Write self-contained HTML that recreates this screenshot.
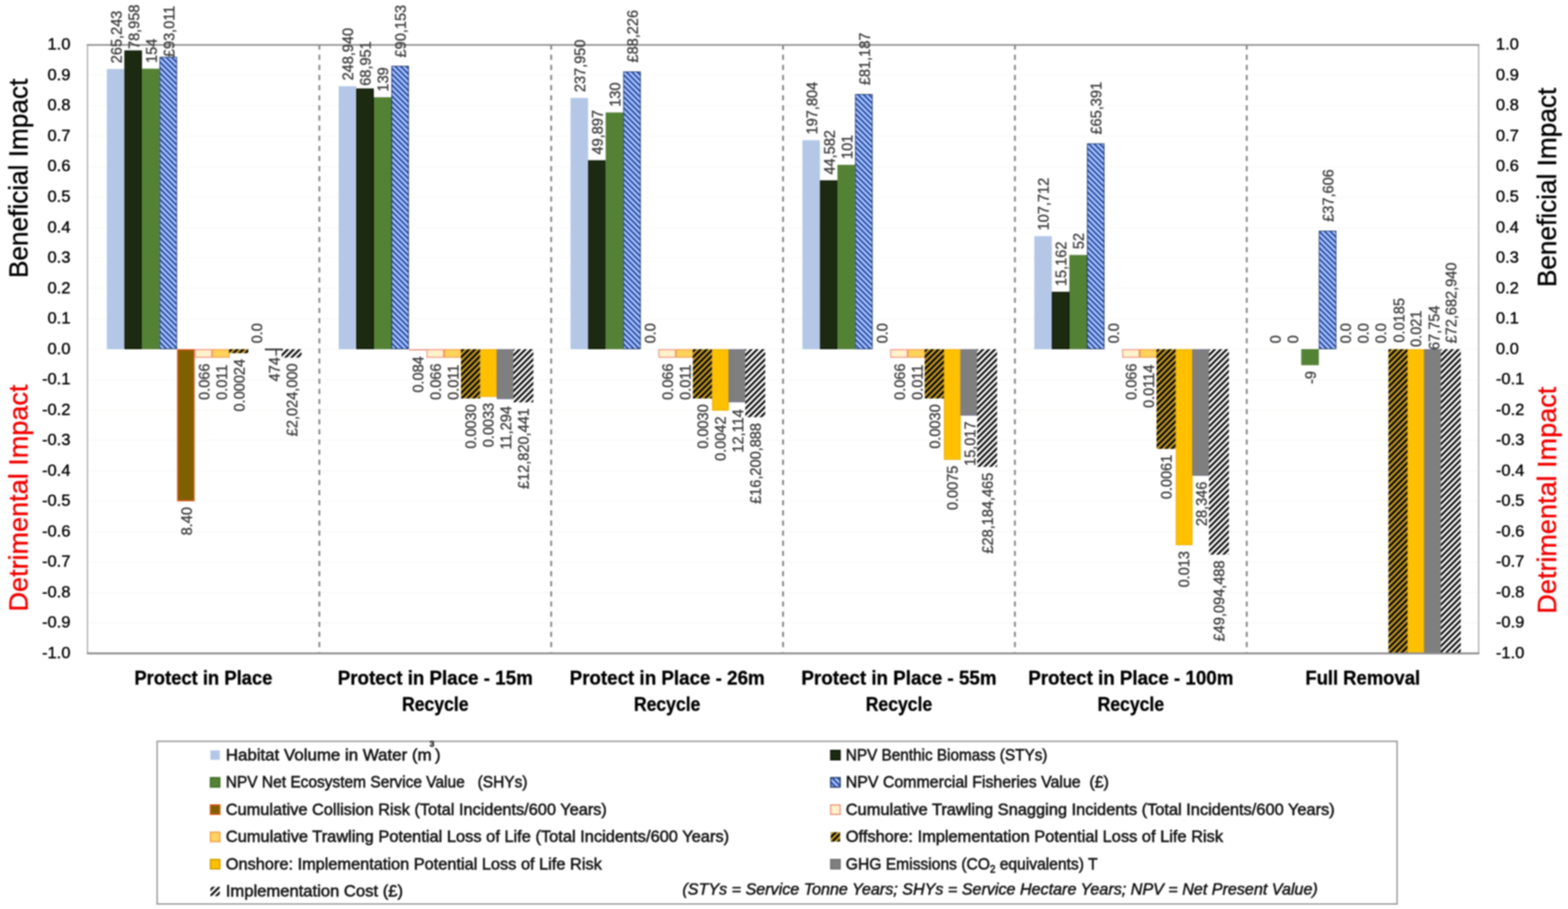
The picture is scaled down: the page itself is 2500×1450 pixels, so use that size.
<!DOCTYPE html>
<html lang="en"><head><meta charset="utf-8">
<title>Beneficial and Detrimental Impact by Decommissioning Option</title>
<style>
html,body{margin:0;padding:0;background:#fff;}
body{width:2500px;height:1450px;overflow:hidden;font-family:"Liberation Sans", sans-serif;}
svg{display:block;filter:blur(1.0px);}
text{font-family:"Liberation Sans", sans-serif;}
.dl{font-size:23.2px;fill:#3a3a3a;stroke:#3a3a3a;stroke-width:0.5px;}
.tk{font-size:26.3px;fill:#000;stroke:#000;stroke-width:0.55px;}
.cat{font-size:30.6px;font-weight:bold;fill:#000;stroke:#000;stroke-width:0.5px;text-anchor:middle;}
.lg{font-size:26px;fill:#141414;stroke:#141414;stroke-width:0.85px;white-space:pre;}
.ft{font-size:26px;font-style:italic;fill:#111;stroke:#111;stroke-width:0.75px;}
.ax{font-size:42px;stroke-width:0.55px;}
</style></head><body>
<svg width="2500" height="1450" viewBox="0 0 2500 1450" role="img" aria-label="Bar chart of beneficial and detrimental impact by decommissioning option">
<defs>
<pattern id="pFish" width="6.2" height="6.2" patternUnits="userSpaceOnUse" patternTransform="rotate(45)"><rect width="6.2" height="6.2" fill="#A6C5FF"/><rect width="6.2" height="2.6" fill="#25439A"/></pattern>
<pattern id="pOff" width="6.7" height="6.7" patternUnits="userSpaceOnUse" patternTransform="rotate(-45)"><rect width="6.7" height="6.7" fill="#080500"/><rect width="6.7" height="3.2" fill="#CDA327"/></pattern>
<pattern id="pCost" width="6.7" height="6.7" patternUnits="userSpaceOnUse" patternTransform="rotate(-45)"><rect width="6.7" height="6.7" fill="#ffffff"/><rect width="6.7" height="3.2" fill="#050505"/></pattern>
</defs>
<rect x="0" y="0" width="2500" height="1450" fill="#ffffff"/>
<g stroke="#f9f9f7" stroke-width="1.5">
<line x1="139.5" y1="993.73" x2="2357.5" y2="993.73"/>
<line x1="139.5" y1="945.20" x2="2357.5" y2="945.20"/>
<line x1="139.5" y1="896.67" x2="2357.5" y2="896.67"/>
<line x1="139.5" y1="848.15" x2="2357.5" y2="848.15"/>
<line x1="139.5" y1="799.62" x2="2357.5" y2="799.62"/>
<line x1="139.5" y1="751.10" x2="2357.5" y2="751.10"/>
<line x1="139.5" y1="702.58" x2="2357.5" y2="702.58"/>
<line x1="139.5" y1="654.05" x2="2357.5" y2="654.05"/>
<line x1="139.5" y1="605.52" x2="2357.5" y2="605.52"/>
<line x1="139.5" y1="557.00" x2="2357.5" y2="557.00"/>
<line x1="139.5" y1="508.48" x2="2357.5" y2="508.48"/>
<line x1="139.5" y1="459.95" x2="2357.5" y2="459.95"/>
<line x1="139.5" y1="411.43" x2="2357.5" y2="411.43"/>
<line x1="139.5" y1="362.90" x2="2357.5" y2="362.90"/>
<line x1="139.5" y1="314.38" x2="2357.5" y2="314.38"/>
<line x1="139.5" y1="265.85" x2="2357.5" y2="265.85"/>
<line x1="139.5" y1="217.33" x2="2357.5" y2="217.33"/>
<line x1="139.5" y1="168.80" x2="2357.5" y2="168.80"/>
<line x1="139.5" y1="120.27" x2="2357.5" y2="120.27"/>
</g>
<g stroke="#808080" stroke-width="2.8" stroke-dasharray="8.2 7.95">
<line x1="509.17" y1="71.15" x2="509.17" y2="1042.25"/>
<line x1="878.83" y1="71.15" x2="878.83" y2="1042.25"/>
<line x1="1248.50" y1="71.15" x2="1248.50" y2="1042.25"/>
<line x1="1618.17" y1="71.15" x2="1618.17" y2="1042.25"/>
<line x1="1987.83" y1="71.15" x2="1987.83" y2="1042.25"/>
</g>
<g>
<rect x="170.33" y="110.08" width="28.00" height="446.92" fill="#B4C7E7"/>
<rect x="540.00" y="137.50" width="28.00" height="419.50" fill="#B4C7E7"/>
<rect x="909.67" y="156.18" width="28.00" height="400.82" fill="#B4C7E7"/>
<rect x="1279.33" y="223.63" width="28.00" height="333.37" fill="#B4C7E7"/>
<rect x="1649.00" y="376.73" width="28.00" height="180.27" fill="#B4C7E7"/>
<rect x="199.08" y="81.23" width="26.50" height="475.02" fill="#1B2A10" stroke="#0B1405" stroke-width="1.5"/>
<rect x="568.75" y="141.89" width="26.50" height="414.36" fill="#1B2A10" stroke="#0B1405" stroke-width="1.5"/>
<rect x="938.42" y="256.41" width="26.50" height="299.84" fill="#1B2A10" stroke="#0B1405" stroke-width="1.5"/>
<rect x="1308.08" y="288.44" width="26.50" height="267.81" fill="#1B2A10" stroke="#0B1405" stroke-width="1.5"/>
<rect x="1677.75" y="466.23" width="26.50" height="90.02" fill="#1B2A10" stroke="#0B1405" stroke-width="1.5"/>
<rect x="226.83" y="110.10" width="27.00" height="446.40" fill="#548235" stroke="#4A762D" stroke-width="1"/>
<rect x="596.50" y="155.71" width="27.00" height="400.79" fill="#548235" stroke="#4A762D" stroke-width="1"/>
<rect x="966.17" y="179.98" width="27.00" height="376.52" fill="#548235" stroke="#4A762D" stroke-width="1"/>
<rect x="1335.83" y="263.44" width="27.00" height="293.06" fill="#548235" stroke="#4A762D" stroke-width="1"/>
<rect x="1705.50" y="407.22" width="27.00" height="149.28" fill="#548235" stroke="#4A762D" stroke-width="1"/>
<rect x="2075.17" y="557.50" width="27.00" height="24.48" fill="#548235" stroke="#4A762D" stroke-width="1"/>
<rect x="254.93" y="91.27" width="26.80" height="465.13" fill="url(#pFish)" stroke="#1F3864" stroke-width="1.2"/>
<rect x="624.60" y="105.59" width="26.80" height="450.81" fill="url(#pFish)" stroke="#1F3864" stroke-width="1.2"/>
<rect x="994.27" y="114.57" width="26.80" height="441.83" fill="url(#pFish)" stroke="#1F3864" stroke-width="1.2"/>
<rect x="1363.93" y="150.62" width="26.80" height="405.78" fill="url(#pFish)" stroke="#1F3864" stroke-width="1.2"/>
<rect x="1733.60" y="229.33" width="26.80" height="327.07" fill="url(#pFish)" stroke="#1F3864" stroke-width="1.2"/>
<rect x="2103.27" y="368.60" width="26.80" height="187.80" fill="url(#pFish)" stroke="#1F3864" stroke-width="1.2"/>
<rect x="283.33" y="558.00" width="26.00" height="240.62" fill="#7F6000" stroke="#D8541A" stroke-width="2.0"/>
<rect x="652.00" y="557.20" width="28.00" height="1.8" fill="#E58A70"/>
<rect x="311.13" y="557.80" width="26.40" height="11.99" fill="#FFF2CC" stroke="#F0907A" stroke-width="1.6"/>
<rect x="680.80" y="557.80" width="26.40" height="11.99" fill="#FFF2CC" stroke="#F0907A" stroke-width="1.6"/>
<rect x="1050.47" y="557.80" width="26.40" height="11.99" fill="#FFF2CC" stroke="#F0907A" stroke-width="1.6"/>
<rect x="1420.13" y="557.80" width="26.40" height="11.99" fill="#FFF2CC" stroke="#F0907A" stroke-width="1.6"/>
<rect x="1789.80" y="557.80" width="26.40" height="11.99" fill="#FFF2CC" stroke="#F0907A" stroke-width="1.6"/>
<rect x="339.13" y="557.80" width="26.40" height="11.99" fill="#FFD35C" stroke="#F59A4A" stroke-width="1.6"/>
<rect x="708.80" y="557.80" width="26.40" height="11.99" fill="#FFD35C" stroke="#F59A4A" stroke-width="1.6"/>
<rect x="1078.47" y="557.80" width="26.40" height="11.99" fill="#FFD35C" stroke="#F59A4A" stroke-width="1.6"/>
<rect x="1448.13" y="557.80" width="26.40" height="11.99" fill="#FFD35C" stroke="#F59A4A" stroke-width="1.6"/>
<rect x="1817.80" y="557.80" width="26.40" height="11.99" fill="#FFD35C" stroke="#F59A4A" stroke-width="1.6"/>
<rect x="365.33" y="557.00" width="30.60" height="6.31" fill="url(#pOff)"/>
<rect x="735.00" y="557.00" width="30.60" height="78.61" fill="url(#pOff)"/>
<rect x="1104.67" y="557.00" width="30.60" height="78.61" fill="url(#pOff)"/>
<rect x="1474.33" y="557.00" width="30.60" height="78.61" fill="url(#pOff)"/>
<rect x="1844.00" y="557.00" width="30.60" height="159.02" fill="url(#pOff)"/>
<rect x="2213.67" y="557.00" width="30.60" height="485.25" fill="url(#pOff)"/>
<rect x="766.25" y="557.65" width="25.50" height="74.88" fill="#FFC000" stroke="#E9AE00" stroke-width="1.3"/>
<rect x="1135.92" y="557.65" width="25.50" height="96.72" fill="#FFC000" stroke="#E9AE00" stroke-width="1.3"/>
<rect x="1505.58" y="557.65" width="25.50" height="175.19" fill="#FFC000" stroke="#E9AE00" stroke-width="1.3"/>
<rect x="1875.25" y="557.65" width="25.50" height="311.44" fill="#FFC000" stroke="#E9AE00" stroke-width="1.3"/>
<rect x="2244.92" y="557.65" width="25.50" height="483.95" fill="#FFC000" stroke="#E9AE00" stroke-width="1.3"/>
<rect x="422.33" y="556.00" width="28.00" height="2.8" fill="#333"/>
<rect x="792.70" y="557.70" width="26.60" height="78.33" fill="#7F7F7F" stroke="#75778F" stroke-width="1.4"/>
<rect x="1162.37" y="557.70" width="26.60" height="83.32" fill="#7F7F7F" stroke="#75778F" stroke-width="1.4"/>
<rect x="1532.03" y="557.70" width="26.60" height="104.63" fill="#7F7F7F" stroke="#75778F" stroke-width="1.4"/>
<rect x="1901.70" y="557.70" width="26.60" height="200.61" fill="#7F7F7F" stroke="#75778F" stroke-width="1.4"/>
<rect x="2271.37" y="557.70" width="26.60" height="483.85" fill="#7F7F7F" stroke="#75778F" stroke-width="1.4"/>
<rect x="448.93" y="557.00" width="31.80" height="13.49" fill="url(#pCost)"/>
<rect x="818.60" y="557.00" width="31.80" height="84.72" fill="url(#pCost)"/>
<rect x="1188.27" y="557.00" width="31.80" height="108.50" fill="url(#pCost)"/>
<rect x="1557.93" y="557.00" width="31.80" height="187.74" fill="url(#pCost)"/>
<rect x="1927.60" y="557.00" width="31.80" height="327.74" fill="url(#pCost)"/>
<rect x="2297.27" y="557.00" width="31.80" height="485.25" fill="url(#pCost)"/>
</g>
<line x1="440.3" y1="557.0" x2="440.3" y2="567.5" stroke="#333" stroke-width="2.2"/>
<rect x="139.50" y="71.75" width="2218.00" height="970.50" fill="none" stroke="#9a9a9a" stroke-width="1.7"/>
<line x1="138.50" y1="1042.25" x2="2358.50" y2="1042.25" stroke="#8c8c8c" stroke-width="3"/>
<line x1="138.50" y1="71.75" x2="2358.50" y2="71.75" stroke="#8c8c8c" stroke-width="2.6"/>
<g class="dl">
<text transform="translate(193.63 100.88) rotate(-90)" x="0" y="0">265,243</text>
<text transform="translate(563.30 128.30) rotate(-90)" x="0" y="0">248,940</text>
<text transform="translate(932.97 146.98) rotate(-90)" x="0" y="0">237,950</text>
<text transform="translate(1302.63 214.43) rotate(-90)" x="0" y="0">197,804</text>
<text transform="translate(1672.30 367.53) rotate(-90)" x="0" y="0">107,712</text>
<text transform="translate(2041.97 547.80) rotate(-90)" x="0" y="0">0</text>
<text transform="translate(221.63 78.25) rotate(-90)" x="0" y="0">78,958</text>
<text transform="translate(591.30 136.80) rotate(-90)" x="0" y="0">68,951</text>
<text transform="translate(960.97 246.46) rotate(-90)" x="0" y="0">49,897</text>
<text transform="translate(1330.63 278.49) rotate(-90)" x="0" y="0">44,582</text>
<text transform="translate(1700.30 456.28) rotate(-90)" x="0" y="0">15,162</text>
<text transform="translate(2069.97 547.80) rotate(-90)" x="0" y="0">0</text>
<text transform="translate(249.63 100.40) rotate(-90)" x="0" y="0">154</text>
<text transform="translate(619.30 146.01) rotate(-90)" x="0" y="0">139</text>
<text transform="translate(988.97 170.28) rotate(-90)" x="0" y="0">130</text>
<text transform="translate(1358.63 253.74) rotate(-90)" x="0" y="0">101</text>
<text transform="translate(1728.30 397.52) rotate(-90)" x="0" y="0">52</text>
<text transform="translate(2097.97 612.40) rotate(-90)" x="0" y="0">-9</text>
<text transform="translate(277.63 91.14) rotate(-90)" x="0" y="0">£93,011</text>
<text transform="translate(647.30 91.64) rotate(-90)" x="0" y="0">£90,153</text>
<text transform="translate(1016.97 99.77) rotate(-90)" x="0" y="0">£88,226</text>
<text transform="translate(1386.63 135.82) rotate(-90)" x="0" y="0">£81,187</text>
<text transform="translate(1756.30 214.53) rotate(-90)" x="0" y="0">£65,391</text>
<text transform="translate(2125.97 353.80) rotate(-90)" x="0" y="0">£37,606</text>
<text transform="translate(305.63 854.07) rotate(-90)" x="0" y="0">8.40</text>
<text transform="translate(675.30 626.29) rotate(-90)" x="0" y="0">0.084</text>
<text transform="translate(1044.97 547.80) rotate(-90)" x="0" y="0">0.0</text>
<text transform="translate(1414.63 547.80) rotate(-90)" x="0" y="0">0.0</text>
<text transform="translate(1784.30 547.80) rotate(-90)" x="0" y="0">0.0</text>
<text transform="translate(2153.97 547.80) rotate(-90)" x="0" y="0">0.0</text>
<text transform="translate(333.63 637.93) rotate(-90)" x="0" y="0">0.066</text>
<text transform="translate(703.30 637.93) rotate(-90)" x="0" y="0">0.066</text>
<text transform="translate(1072.97 637.93) rotate(-90)" x="0" y="0">0.066</text>
<text transform="translate(1442.63 637.93) rotate(-90)" x="0" y="0">0.066</text>
<text transform="translate(1812.30 637.93) rotate(-90)" x="0" y="0">0.066</text>
<text transform="translate(2181.97 547.80) rotate(-90)" x="0" y="0">0.0</text>
<text transform="translate(361.63 637.93) rotate(-90)" x="0" y="0">0.011</text>
<text transform="translate(731.30 637.93) rotate(-90)" x="0" y="0">0.011</text>
<text transform="translate(1100.97 637.93) rotate(-90)" x="0" y="0">0.011</text>
<text transform="translate(1470.63 637.93) rotate(-90)" x="0" y="0">0.011</text>
<text transform="translate(1840.30 650.83) rotate(-90)" x="0" y="0">0.0114</text>
<text transform="translate(2209.97 547.80) rotate(-90)" x="0" y="0">0.0</text>
<text transform="translate(389.63 656.45) rotate(-90)" x="0" y="0">0.00024</text>
<text transform="translate(759.30 715.86) rotate(-90)" x="0" y="0">0.0030</text>
<text transform="translate(1128.97 715.86) rotate(-90)" x="0" y="0">0.0030</text>
<text transform="translate(1498.63 715.86) rotate(-90)" x="0" y="0">0.0030</text>
<text transform="translate(1868.30 796.26) rotate(-90)" x="0" y="0">0.0061</text>
<text transform="translate(2238.97 546.40) rotate(-90)" x="0" y="0">0.0185</text>
<text transform="translate(417.63 547.80) rotate(-90)" x="0" y="0">0.0</text>
<text transform="translate(787.30 713.43) rotate(-90)" x="0" y="0">0.0033</text>
<text transform="translate(1156.97 735.27) rotate(-90)" x="0" y="0">0.0042</text>
<text transform="translate(1526.63 813.73) rotate(-90)" x="0" y="0">0.0075</text>
<text transform="translate(1896.30 937.09) rotate(-90)" x="0" y="0">0.013</text>
<text transform="translate(2265.97 553.40) rotate(-90)" x="0" y="0">0.021</text>
<text transform="translate(445.63 608.39) rotate(-90)" x="0" y="0">474</text>
<text transform="translate(815.30 716.97) rotate(-90)" x="0" y="0">11,294</text>
<text transform="translate(1184.97 721.97) rotate(-90)" x="0" y="0">12,114</text>
<text transform="translate(1554.63 743.27) rotate(-90)" x="0" y="0">15,017</text>
<text transform="translate(1924.30 839.26) rotate(-90)" x="0" y="0">28,346</text>
<text transform="translate(2295.47 558.30) rotate(-90)" x="0" y="0">67,754</text>
<text transform="translate(473.63 695.88) rotate(-90)" x="0" y="0">£2,024,000</text>
<text transform="translate(843.30 780.02) rotate(-90)" x="0" y="0">£12,820,441</text>
<text transform="translate(1212.97 803.79) rotate(-90)" x="0" y="0">£16,200,888</text>
<text transform="translate(1582.63 883.04) rotate(-90)" x="0" y="0">£28,184,465</text>
<text transform="translate(1952.30 1023.03) rotate(-90)" x="0" y="0">£49,094,488</text>
<text transform="translate(2321.97 547.80) rotate(-90)" x="0" y="0">£72,682,940</text>
</g>
<g class="tk">
<text x="112.3" y="1049.85" text-anchor="end">-1.0</text>
<text x="2385" y="1049.85" text-anchor="start">-1.0</text>
<text x="112.3" y="1001.33" text-anchor="end">-0.9</text>
<text x="2385" y="1001.33" text-anchor="start">-0.9</text>
<text x="112.3" y="952.80" text-anchor="end">-0.8</text>
<text x="2385" y="952.80" text-anchor="start">-0.8</text>
<text x="112.3" y="904.27" text-anchor="end">-0.7</text>
<text x="2385" y="904.27" text-anchor="start">-0.7</text>
<text x="112.3" y="855.75" text-anchor="end">-0.6</text>
<text x="2385" y="855.75" text-anchor="start">-0.6</text>
<text x="112.3" y="807.23" text-anchor="end">-0.5</text>
<text x="2385" y="807.23" text-anchor="start">-0.5</text>
<text x="112.3" y="758.70" text-anchor="end">-0.4</text>
<text x="2385" y="758.70" text-anchor="start">-0.4</text>
<text x="112.3" y="710.18" text-anchor="end">-0.3</text>
<text x="2385" y="710.18" text-anchor="start">-0.3</text>
<text x="112.3" y="661.65" text-anchor="end">-0.2</text>
<text x="2385" y="661.65" text-anchor="start">-0.2</text>
<text x="112.3" y="613.12" text-anchor="end">-0.1</text>
<text x="2385" y="613.12" text-anchor="start">-0.1</text>
<text x="112.3" y="564.60" text-anchor="end">0.0</text>
<text x="2385" y="564.60" text-anchor="start">0.0</text>
<text x="112.3" y="516.08" text-anchor="end">0.1</text>
<text x="2385" y="516.08" text-anchor="start">0.1</text>
<text x="112.3" y="467.55" text-anchor="end">0.2</text>
<text x="2385" y="467.55" text-anchor="start">0.2</text>
<text x="112.3" y="419.03" text-anchor="end">0.3</text>
<text x="2385" y="419.03" text-anchor="start">0.3</text>
<text x="112.3" y="370.50" text-anchor="end">0.4</text>
<text x="2385" y="370.50" text-anchor="start">0.4</text>
<text x="112.3" y="321.98" text-anchor="end">0.5</text>
<text x="2385" y="321.98" text-anchor="start">0.5</text>
<text x="112.3" y="273.45" text-anchor="end">0.6</text>
<text x="2385" y="273.45" text-anchor="start">0.6</text>
<text x="112.3" y="224.93" text-anchor="end">0.7</text>
<text x="2385" y="224.93" text-anchor="start">0.7</text>
<text x="112.3" y="176.40" text-anchor="end">0.8</text>
<text x="2385" y="176.40" text-anchor="start">0.8</text>
<text x="112.3" y="127.87" text-anchor="end">0.9</text>
<text x="2385" y="127.87" text-anchor="start">0.9</text>
<text x="112.3" y="79.35" text-anchor="end">1.0</text>
<text x="2385" y="79.35" text-anchor="start">1.0</text>
</g>
<text class="ax" transform="translate(44.00 443.50) rotate(-90)" x="0" y="0" fill="#000000" stroke="#000000" textLength="318.0" lengthAdjust="spacingAndGlyphs">Beneficial Impact</text>
<text class="ax" transform="translate(44.00 975.50) rotate(-90)" x="0" y="0" fill="#F20000" stroke="#F20000" textLength="362.0" lengthAdjust="spacingAndGlyphs">Detrimental Impact</text>
<text class="ax" transform="translate(2480.50 458.00) rotate(-90)" x="0" y="0" fill="#000000" stroke="#000000" textLength="318.0" lengthAdjust="spacingAndGlyphs">Beneficial Impact</text>
<text class="ax" transform="translate(2480.50 979.00) rotate(-90)" x="0" y="0" fill="#F20000" stroke="#F20000" textLength="362.0" lengthAdjust="spacingAndGlyphs">Detrimental Impact</text>
<g class="cat">
<text x="324.3" y="1092" textLength="220" lengthAdjust="spacingAndGlyphs">Protect in Place</text>
<text x="694.0" y="1092" textLength="311" lengthAdjust="spacingAndGlyphs">Protect in Place - 15m</text>
<text x="694.0" y="1133.5" textLength="106" lengthAdjust="spacingAndGlyphs">Recycle</text>
<text x="1063.7" y="1092" textLength="311" lengthAdjust="spacingAndGlyphs">Protect in Place - 26m</text>
<text x="1063.7" y="1133.5" textLength="106" lengthAdjust="spacingAndGlyphs">Recycle</text>
<text x="1433.3" y="1092" textLength="311" lengthAdjust="spacingAndGlyphs">Protect in Place - 55m</text>
<text x="1433.3" y="1133.5" textLength="106" lengthAdjust="spacingAndGlyphs">Recycle</text>
<text x="1803.0" y="1092" textLength="327" lengthAdjust="spacingAndGlyphs">Protect in Place - 100m</text>
<text x="1803.0" y="1133.5" textLength="106" lengthAdjust="spacingAndGlyphs">Recycle</text>
<text x="2172.7" y="1092" textLength="183" lengthAdjust="spacingAndGlyphs">Full Removal</text>
</g>
<rect x="250.5" y="1182.5" width="1977" height="259.5" fill="#ffffff" stroke="#8c8c8c" stroke-width="2"/>
<rect x="335.5" y="1197.0" width="15" height="15" fill="#B4C7E7"/>
<text class="lg" x="360.0" y="1212.5" xml:space="preserve" textLength="342.5" lengthAdjust="spacingAndGlyphs">Habitat Volume in Water (m<tspan dy="-22" dx="-3" font-size="13">3</tspan><tspan dy="22" dx="1">)</tspan></text>
<rect x="335.5" y="1240.5" width="15" height="15" fill="#548235" stroke="#3C6A22" stroke-width="2"/>
<text class="lg" x="360.0" y="1256.0" xml:space="preserve" textLength="481.0" lengthAdjust="spacingAndGlyphs">NPV Net Ecosystem Service Value   (SHYs)</text>
<rect x="335.5" y="1284.0" width="15" height="15" fill="#7F6000" stroke="#D8541A" stroke-width="2"/>
<text class="lg" x="360.0" y="1299.5" xml:space="preserve" textLength="607.5" lengthAdjust="spacingAndGlyphs">Cumulative Collision Risk (Total Incidents/600 Years)</text>
<rect x="335.5" y="1327.5" width="15" height="15" fill="#FFD35C" stroke="#F59A4A" stroke-width="2"/>
<text class="lg" x="360.0" y="1343.0" xml:space="preserve" textLength="802.5" lengthAdjust="spacingAndGlyphs">Cumulative Trawling Potential Loss of Life (Total Incidents/600 Years)</text>
<rect x="335.5" y="1371.0" width="15" height="15" fill="#FFC000" stroke="#C99A00" stroke-width="2"/>
<text class="lg" x="360.0" y="1386.5" xml:space="preserve" textLength="599.5" lengthAdjust="spacingAndGlyphs">Onshore: Implementation Potential Loss of Life Risk</text>
<rect x="335.5" y="1414.5" width="15" height="15" fill="url(#pCost)"/>
<text class="lg" x="360.0" y="1430.0" xml:space="preserve" textLength="282.5" lengthAdjust="spacingAndGlyphs">Implementation Cost (£)</text>
<rect x="1324.5" y="1197.0" width="15" height="15" fill="#1B2A10" stroke="#0B1405" stroke-width="2"/>
<text class="lg" x="1348.5" y="1212.5" xml:space="preserve" textLength="321.5" lengthAdjust="spacingAndGlyphs">NPV Benthic Biomass (STYs)</text>
<rect x="1324.5" y="1240.5" width="15" height="15" fill="url(#pFish)" stroke="#1F3864" stroke-width="2"/>
<text class="lg" x="1348.5" y="1256.0" xml:space="preserve" textLength="419.5" lengthAdjust="spacingAndGlyphs">NPV Commercial Fisheries Value  (£)</text>
<rect x="1324.5" y="1284.0" width="15" height="15" fill="#FFF2CC" stroke="#F0907A" stroke-width="2"/>
<text class="lg" x="1348.5" y="1299.5" xml:space="preserve" textLength="779.5" lengthAdjust="spacingAndGlyphs">Cumulative Trawling Snagging Incidents (Total Incidents/600 Years)</text>
<rect x="1324.5" y="1327.5" width="15" height="15" fill="url(#pOff)"/>
<text class="lg" x="1348.5" y="1343.0" xml:space="preserve" textLength="601.5" lengthAdjust="spacingAndGlyphs">Offshore: Implementation Potential Loss of Life Risk</text>
<rect x="1324.5" y="1371.0" width="15" height="15" fill="#7F7F7F" stroke="#6f6f6f" stroke-width="2"/>
<text class="lg" x="1348.5" y="1386.5" xml:space="preserve" textLength="401.5" lengthAdjust="spacingAndGlyphs">GHG Emissions (CO<tspan dy="5" font-size="16">2</tspan><tspan dy="-5"> equivalents) T</tspan></text>
<text class="ft" x="1088" y="1426.5" textLength="1013" lengthAdjust="spacingAndGlyphs">(STYs = Service Tonne Years; SHYs = Service Hectare Years; NPV = Net Present Value)</text>
</svg>
</body></html>
